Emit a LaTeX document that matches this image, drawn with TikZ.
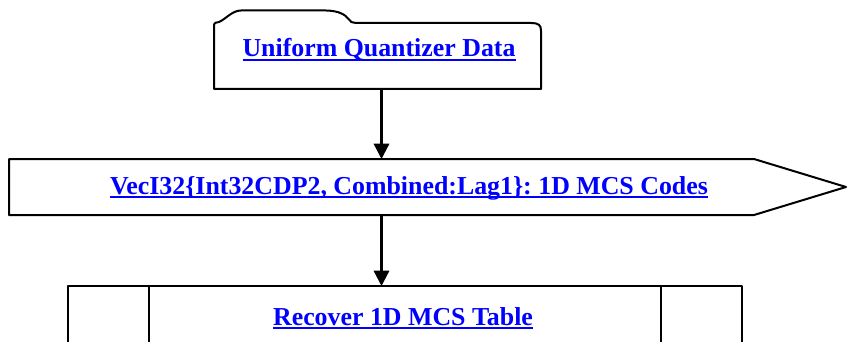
\documentclass[tikz,border=0pt]{standalone}
\usepackage{fontspec}
\setmainfont{Liberation Serif}
\usetikzlibrary{arrows.meta}
\frenchspacing
% underlined hyperlink-style label
\newcommand\linktext[1]{\setbox0\hbox{#1}\rlap{\rule[-3.1pt]{\wd0}{1.5pt}}\box0}
\tikzset{
  outline/.style={draw=black, line width=1.5pt, line join=round},
  flow/.style={draw=black, line width=1.7pt, -{Triangle[width=11.5pt,length=11.5pt]}},
  linklabel/.style={anchor=base, inner sep=0pt, text=blue,
    font=\fontsize{19.4pt}{23pt}\selectfont\bfseries},
  body/.style={inner sep=0pt, outer sep=0pt}
}
\begin{document}
\begin{tikzpicture}[x=0.75pt,y=-0.75pt]
\useasboundingbox[fill=white] (0,0) rectangle (848,342);

% shape bodies
\node[body, minimum width=245.25pt, minimum height=50.25pt] (databox) at (377.5,55.5) {};
\node[body, minimum width=629.25pt, minimum height=42pt] (codesbox) at (428.5,187) {};
\node[body, minimum width=505.5pt, minimum height=60pt] (tablebox) at (404.7,326) {};

% data store with tab
\draw[outline] (databox.south west) -- (214,24.5)
  .. controls (214,22.8) and (216,22.5) .. (219,22)
  .. controls (226,19) and (232,10.5) .. (241,10.5)
  -- (326,10.5)
  .. controls (338,10.8) and (345,14) .. (349,19.5)
  .. controls (350.5,22) and (352,22.8) .. (355,22.8)
  -- (531,23)
  .. controls (539,23.2) and (541,25) .. (541,31)
  -- (databox.south east) -- cycle;

% pointed data bar
\draw[outline] (codesbox.north west) -- (754,159) -- (846,187) -- (754,215)
  -- (codesbox.south west) -- cycle;

% subroutine box, running off the bottom
\draw[outline] (67.7,350) -- (tablebox.north west) -- (tablebox.north east) -- (741.7,350);
\draw[outline] (149,286) -- (149,350);
\draw[outline] (660.7,286) -- (660.7,350);

% labels
\node[linklabel] (data) at (379,57) {\linktext{Uniform Quantizer Data}};
\node[linklabel] (codes) at (409,194) {\linktext{VecI32\{Int32CDP2, Combined:Lag1\}: 1D MCS Codes}};
\node[linklabel] (table) at (403,325) {\linktext{Recover 1D MCS Table}};

% connectors
\draw[flow] (databox.south -| 381.5,0) -- (codesbox.north -| 381.5,0);
\draw[flow] (codesbox.south -| 381.5,0) -- (tablebox.north -| 381.5,0);
\end{tikzpicture}
\end{document}
